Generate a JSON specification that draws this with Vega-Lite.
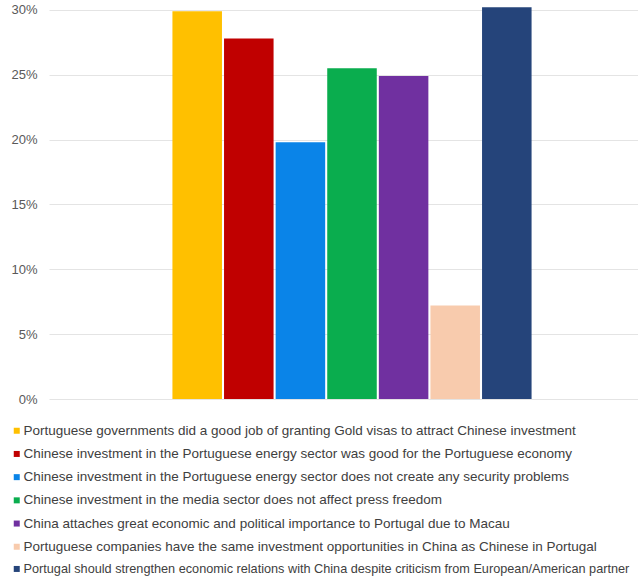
{
  "$schema": "https://vega.github.io/schema/vega-lite/v6.json",
  "width": 589,
  "height": 393,
  "autosize": "none",
  "padding": {"left": 49, "top": 6, "right": 0, "bottom": 182},
  "background": "white",
  "config": {
    "font": "Liberation Sans",
    "view": {"stroke": null}
  },
  "data": {
    "values": [
      {"group": "all", "statement": "Portuguese governments did a good job of granting Gold visas to attract Chinese investment", "share": 0.299},
      {"group": "all", "statement": "Chinese investment in the Portuguese energy sector was good for the Portuguese economy", "share": 0.278},
      {"group": "all", "statement": "Chinese investment in the Portuguese energy sector does not create any security problems", "share": 0.198},
      {"group": "all", "statement": "Chinese investment in the media sector does not affect press freedom", "share": 0.255},
      {"group": "all", "statement": "China attaches great economic and political importance to Portugal due to Macau", "share": 0.249},
      {"group": "all", "statement": "Portuguese companies have the same investment opportunities in China as Chinese in Portugal", "share": 0.072},
      {"group": "all", "statement": "Portugal should strengthen economic relations with China despite criticism from European/American partner", "share": 0.302}
    ]
  },
  "mark": {"type": "bar"},
  "encoding": {
    "x": {
      "field": "group",
      "type": "nominal",
      "axis": null,
      "scale": {"paddingInner": 0, "paddingOuter": 0.32, "align": 0.537}
    },
    "xOffset": {
      "field": "statement",
      "type": "nominal",
      "sort": null,
      "scale": {"paddingInner": 0.04, "paddingOuter": 0}
    },
    "y": {
      "field": "share",
      "type": "quantitative",
      "scale": {"domain": [0, 0.303], "nice": false},
      "axis": {
        "title": null,
        "format": ".0%",
        "values": [0, 0.05, 0.1, 0.15, 0.2, 0.25, 0.3],
        "domain": false,
        "ticks": false,
        "labelPadding": 12,
        "labelFontSize": 13,
        "labelColor": "#595959",
        "gridColor": "#e4e4e4",
        "gridWidth": 1
      }
    },
    "color": {
      "field": "statement",
      "type": "nominal",
      "sort": null,
      "scale": {
        "domain": [
          "Portuguese governments did a good job of granting Gold visas to attract Chinese investment",
          "Chinese investment in the Portuguese energy sector was good for the Portuguese economy",
          "Chinese investment in the Portuguese energy sector does not create any security problems",
          "Chinese investment in the media sector does not affect press freedom",
          "China attaches great economic and political importance to Portugal due to Macau",
          "Portuguese companies have the same investment opportunities in China as Chinese in Portugal",
          "Portugal should strengthen economic relations with China despite criticism from European/American partner"
        ],
        "range": ["#FFC000", "#C00000", "#0A84E8", "#0AAD4E", "#7030A0", "#F8CBAD", "#25447A"]
      },
      "legend": {
        "title": null,
        "orient": "none",
        "legendX": -39,
        "legendY": 418,
        "direction": "vertical",
        "symbolType": "square",
        "symbolSize": 36,
        "symbolStrokeWidth": 0,
        "symbolOpacity": 1,
        "labelFontSize": 13.5,
        "labelColor": "#404040",
        "labelLimit": 1000,
        "labelOffset": 0,
        "rowPadding": 8.2,
        "encode": {
          "labels": {
            "update": {
              "fontSize": {"signal": "datum.index === 6 ? 12.7 : 13.5"}
            }
          }
        }
      }
    }
  }
}
